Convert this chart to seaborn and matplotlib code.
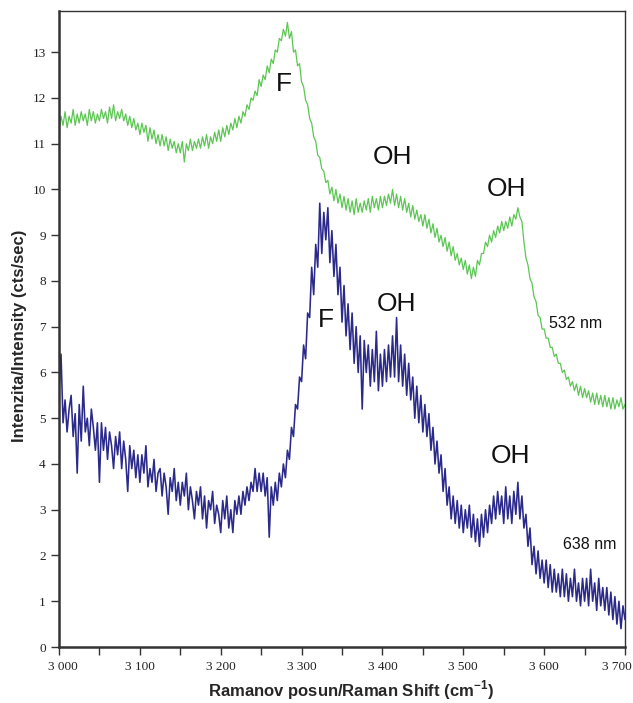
import numpy as np
import matplotlib
matplotlib.use("Agg")
import matplotlib.pyplot as plt
import matplotlib.transforms as mtransforms
import seaborn as sns

# Raman shift grid start/step (cm^-1)
X_START = 3000
X_STEP = 2.5

# 532 nm spectrum (every 2.5 cm^-1 from 3000 to 3700)
green_532 = [
    11.3, 11.6, 11.4, 11.7, 11.35, 11.6, 11.45, 11.75, 11.4, 11.65,
    11.45, 11.7, 11.5, 11.65, 11.4, 11.75, 11.5, 11.7, 11.45, 11.65,
    11.5, 11.75, 11.55, 11.7, 11.45, 11.8, 11.55, 11.85, 11.5, 11.7,
    11.55, 11.75, 11.5, 11.65, 11.4, 11.6, 11.35, 11.55, 11.3, 11.45,
    11.2, 11.45, 11.25, 11.4, 11.05, 11.35, 11.1, 11.3, 11.0, 11.2,
    10.95, 11.2, 10.95, 11.15, 10.85, 11.1, 10.9, 11.05, 10.8, 11.0,
    10.8, 11.05, 10.6, 11.0, 10.85, 11.1, 10.85, 11.05, 10.9, 11.1,
    10.9, 11.15, 10.95, 11.2, 10.9, 11.15, 11.0, 11.25, 11.05, 11.3,
    11.05, 11.35, 11.15, 11.4, 11.2, 11.45, 11.3, 11.55, 11.35, 11.6,
    11.45, 11.7, 11.6, 11.85, 11.75, 12.0, 11.95, 12.15, 12.05, 12.4,
    12.25, 12.5, 12.4, 12.7, 12.55, 12.85, 12.75, 13.05, 13.0, 13.3,
    13.25, 13.5, 13.35, 13.65, 13.3, 13.45, 13.0, 13.05, 12.7, 12.75,
    12.35, 12.25, 11.95, 11.85, 11.55, 11.45, 11.15, 11.05, 10.75, 10.7,
    10.45, 10.4, 10.15, 10.2, 9.9, 10.05, 9.75, 10.0, 9.7, 9.9,
    9.6, 9.85, 9.55, 9.8, 9.5, 9.75, 9.45, 9.8, 9.5, 9.7,
    9.5, 9.75, 9.55, 9.8, 9.5, 9.85, 9.6, 9.8, 9.55, 9.85,
    9.6, 9.85, 9.65, 9.9, 9.7, 10.0, 9.65, 9.9, 9.6, 9.85,
    9.55, 9.8, 9.5, 9.7, 9.4, 9.65, 9.35, 9.55, 9.3, 9.45,
    9.2, 9.45, 9.15, 9.35, 9.05, 9.25, 8.95, 9.15, 8.85, 9.0,
    8.75, 8.95, 8.65, 8.85, 8.55, 8.75, 8.45, 8.6, 8.35, 8.5,
    8.25, 8.45, 8.15, 8.35, 8.05, 8.3, 8.1, 8.45, 8.35, 8.6,
    8.6, 8.85, 8.75, 9.0, 8.85, 9.1, 8.95, 9.2, 9.05, 9.3,
    9.1, 9.3, 9.15, 9.4, 9.2, 9.45, 9.35, 9.6, 9.4, 9.3,
    8.85, 8.5, 8.35, 8.05, 7.95, 7.65, 7.55, 7.25, 7.2, 6.95,
    6.95, 6.75, 6.75, 6.55, 6.55, 6.35, 6.4, 6.2, 6.2, 6.0,
    6.05, 5.85, 5.9, 5.7, 5.8, 5.6, 5.75, 5.5, 5.7, 5.45,
    5.65, 5.45, 5.6, 5.35, 5.55, 5.3, 5.55, 5.3, 5.5, 5.25,
    5.5, 5.25, 5.45, 5.2, 5.45, 5.2, 5.4, 5.25, 5.45, 5.2,
    5.3,
]

# 638 nm spectrum (every 2.5 cm^-1 from 3000 to 3700)
blue_638 = [
    5.6, 6.4, 4.9, 5.4, 4.7, 5.2, 5.5, 4.6, 5.1, 3.8,
    5.3, 4.5, 5.7, 4.7, 5.0, 4.4, 5.2, 4.8, 4.3, 4.9,
    3.6, 4.9, 4.3, 4.8, 4.1, 4.7, 4.4, 3.9, 4.6, 4.2,
    4.7, 3.9, 4.5, 4.1, 3.4, 4.4, 3.9, 4.3, 3.7, 4.2,
    3.6, 4.2, 3.8, 4.4, 3.5, 3.9, 3.6, 4.1, 3.4, 3.8,
    3.9, 3.3, 3.8, 3.5, 2.9, 3.7, 3.4, 3.9, 3.2, 3.6,
    3.1, 3.6, 3.3, 3.8, 3.0, 3.5, 3.2, 2.8, 3.4, 3.1,
    3.5, 2.8, 3.3, 2.6, 3.2, 3.0, 3.4, 2.7, 3.1, 2.9,
    2.5, 3.2, 2.8, 3.3, 2.6, 3.0, 2.5, 3.2, 2.9, 3.3,
    2.9, 3.4, 3.1, 3.5, 3.2, 3.6, 3.4, 3.9, 3.4, 3.8,
    3.4, 3.8, 3.3, 3.7, 2.4, 3.5, 3.1, 3.6, 3.2, 3.8,
    3.5, 4.0, 3.7, 4.3, 4.1, 4.8, 4.6, 5.3, 5.2, 5.9,
    5.8, 6.6, 6.3, 7.3, 7.2, 8.3, 7.7, 8.8, 8.3, 9.7,
    8.6, 9.5, 8.9, 9.6, 8.4, 9.1, 8.1, 8.8, 7.7, 8.3,
    7.1, 7.9, 6.8, 7.5, 6.5, 7.3, 6.2, 7.0, 6.0, 6.8,
    5.2, 6.7, 6.0, 6.6, 5.7, 6.5, 5.8, 6.9, 5.6, 6.4,
    5.7, 6.5, 5.8, 6.6, 5.9, 6.8, 5.9, 7.2, 5.8, 6.6,
    5.7, 6.4, 5.5, 6.2, 5.4, 5.9, 5.0, 5.7, 4.9, 5.5,
    4.7, 5.3, 4.6, 5.1, 4.3, 4.8, 4.0, 4.5, 3.8, 4.2,
    3.4, 3.9, 3.1, 3.5, 2.8, 3.3, 2.7, 3.2, 2.6, 3.1,
    2.5, 3.0, 2.6, 3.1, 2.4, 2.9, 2.3, 2.8, 2.2, 2.9,
    2.4, 3.0, 2.5, 3.1, 2.7, 3.3, 2.8, 3.4, 2.9, 3.3,
    2.7, 3.5, 2.8, 3.3, 2.7, 3.4, 2.9, 3.6, 2.8, 3.3,
    2.6, 2.9, 2.2, 2.6, 1.8, 2.2, 1.6, 2.1, 1.5, 1.9,
    1.4, 1.9, 1.3, 1.8, 1.2, 1.7, 1.2, 1.6, 1.1, 1.7,
    1.1, 1.6, 1.0, 1.5, 1.1, 1.7, 1.0, 1.4, 0.9, 1.5,
    1.0, 1.5, 0.9, 1.7, 1.0, 1.4, 0.8, 1.5, 0.9, 1.3,
    0.8, 1.3, 0.7, 1.2, 0.6, 1.1, 0.5, 1.0, 0.4, 0.9,
    0.6,
]

assert len(green_532) == len(blue_638) == 281
shift = X_START + X_STEP * np.arange(len(green_532))

x_ticks = [3000, 3050, 3100, 3150, 3200, 3250, 3300, 3350, 3400,
           3450, 3500, 3550, 3600, 3650, 3700]
x_tick_labels = ["3 000", "", "3 100", "", "3 200", "", "3 300", "",
                 "3 400", "", "3 500", "", "3 600", "", "3 700"]
y_ticks = list(range(0, 14))

# annotations: (text, x, y)
peak_labels = [("F", 3278, 12.3), ("OH", 3413, 10.7), ("OH", 3553, 10.0),
               ("F", 3330, 7.15), ("OH", 3418, 7.5), ("OH", 3559, 4.17)]
line_labels = [("532 nm", 3606, 7.08), ("638 nm", 3623, 2.23)]

sns.set_style("ticks")
plt.rcParams["font.family"] = ["Liberation Sans", "DejaVu Sans"]

fig = plt.figure(figsize=(6.33, 7.03), dpi=100)
ax = fig.add_axes([59 / 633, 1 - 647 / 703, 566 / 633, 636 / 703])

sns.lineplot(x=shift, y=green_532, ax=ax, color="#5cc653", linewidth=0.9,
             estimator=None, sort=False)
sns.lineplot(x=shift, y=blue_638, ax=ax, color="#2b2a8b", linewidth=1.15,
             estimator=None, sort=False)

ax.set_xlim(3000, 3700)
ax.set_ylim(0, 13.9)
ax.set_xticks(x_ticks)
ax.set_xticklabels(x_tick_labels, family="Liberation Serif", fontsize=9.5)
ax.set_yticks(y_ticks)
ax.set_yticklabels([str(v) for v in y_ticks], family="Liberation Serif", fontsize=9.5)
ax.tick_params(axis="both", direction="out", length=6, width=1.0, color="#333333",
               labelcolor="#222222")
ax.tick_params(axis="x", pad=4)

# nudge the edge tick labels inward like the reference
xlabels = ax.get_xticklabels()
xlabels[0].set_transform(xlabels[0].get_transform() +
                         mtransforms.ScaledTranslation(4 / 100, 0, fig.dpi_scale_trans))
xlabels[-1].set_transform(xlabels[-1].get_transform() +
                          mtransforms.ScaledTranslation(-8 / 100, 0, fig.dpi_scale_trans))

for s in ["left", "bottom"]:
    ax.spines[s].set_linewidth(1.8)
    ax.spines[s].set_color("#333333")
for s in ["top", "right"]:
    ax.spines[s].set_visible(True)
    ax.spines[s].set_linewidth(1.0)
    ax.spines[s].set_color("#333333")

ax.set_xlabel("Ramanov posun/Raman Shift (cm$^{\\mathregular{-1}}$)", fontsize=12,
              fontweight="bold", va="center")
ax.set_ylabel("Intenzita/Intensity (cts/sec)", fontsize=12, fontweight="bold",
              va="center")
ax.xaxis.set_label_coords((351 - 59) / 566, -(690 - 647) / 636)
ax.yaxis.set_label_coords(-(59 - 20) / 566, 0.49)

for txt, xv, yv in peak_labels:
    ax.text(xv, yv, txt, fontsize=19, ha="center", va="center", color="#111111")
for txt, xv, yv in line_labels:
    ax.text(xv, yv, txt, fontsize=11.5, ha="left", va="center", color="#111111")

fig.savefig("out.png", dpi=100)
